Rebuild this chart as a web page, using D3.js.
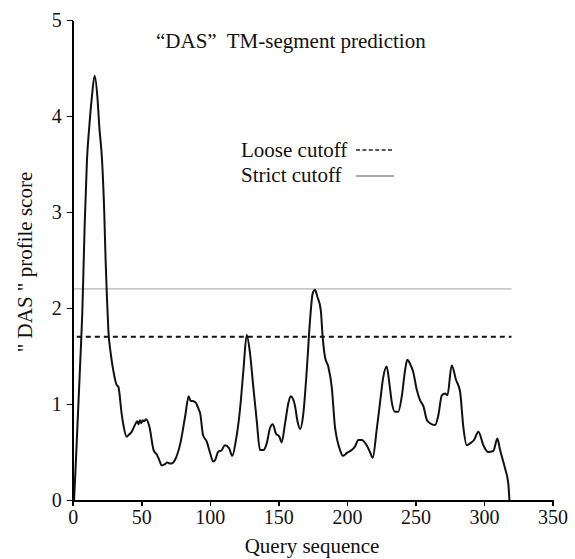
<html>
<head>
<meta charset="utf-8">
<title>DAS TM-segment prediction</title>
<style>
  body { margin: 0; background-color: white; }
  svg { background-color: white; font-family: "Liberation Serif", "Times New Roman", serif; }
  .axis path, .axis line { fill: none; stroke: black; shape-rendering: crispEdges; }
  .axis text { font-size: 20px; fill: #111; }
</style>
</head>
<body>
<div id="chart"></div>
<script src="https://cdnjs.cloudflare.com/ajax/libs/d3/7.8.5/d3.min.js"></script>
<script>
// 数据: 序列位置 与 DAS 分数
var seqPos = [1, 2, 4, 6, 7, 8.7, 10.4, 12.1, 14, 16, 18, 19.4, 21.4, 23, 24, 25, 26, 27.7, 29.6, 32, 33.3, 35.7, 37, 39.3,
  41, 43, 46, 47, 48, 49, 50, 51, 52, 53.5, 56, 59, 61.5, 63, 65, 67, 69, 71, 72, 75, 78.5, 82, 84.6, 86, 87, 89.4,
  92, 93, 95, 97.7, 100, 102.6, 104, 106, 108.7, 111, 114, 116.4, 118.9, 122, 124.5, 126.9, 129.3, 131.7, 134.2, 136.6,
  139, 141.5, 143.9, 145.9, 148.3, 150.7, 152.4, 154.9, 157.3, 159, 162, 163.8, 165.8, 168.2, 170.7, 173.1, 175, 176.7,
  178.4, 180.9, 182.3, 184, 186.4, 188.9, 191.3, 193, 195, 197, 200, 203.5, 206, 208.3, 210.8, 214.4, 216.8, 218.8,
  221.7, 224.1, 226.5, 229, 230.9, 232.7, 235, 237.5, 240, 242.4, 244, 246, 248.4, 250.9, 253.3, 255.7, 258.4, 260.6,
  264.3, 266.7, 269.2, 271.6, 273.3, 276.4, 279.6, 282.5, 284.9, 287.4, 289.8, 292.7, 295.9, 299.5, 303, 306.8, 309.7,
  311.7, 315.3, 317.7, 318.5];
var dasScore = [0, 0.3, 0.95, 1.6, 1.95, 2.85, 3.54, 3.89, 4.2, 4.42, 4.2, 3.89, 3.54, 3.0, 2.5, 2.1, 1.77, 1.53, 1.35, 1.2, 1.18, 0.9, 0.78, 0.66,
  0.68, 0.71, 0.8, 0.82, 0.79, 0.83, 0.8, 0.83, 0.82, 0.84, 0.76, 0.52, 0.47, 0.42, 0.36, 0.37, 0.39, 0.38, 0.38, 0.43, 0.59, 0.87, 1.08, 1.03, 1.03, 1.02,
  0.94, 0.9, 0.68, 0.61, 0.5, 0.4, 0.42, 0.5, 0.52, 0.57, 0.54, 0.46, 0.61, 0.94, 1.35, 1.72, 1.53, 1.18, 0.83, 0.52,
  0.52, 0.59, 0.75, 0.79, 0.69, 0.66, 0.6, 0.8, 1.01, 1.08, 0.99, 0.83, 0.74, 0.9, 1.35, 1.875, 2.15, 2.19,
  2.12, 1.98, 1.7, 1.49, 1.39, 1.18, 0.76, 0.62, 0.52, 0.46, 0.49, 0.52, 0.56, 0.625, 0.625, 0.57, 0.5, 0.44,
  0.73, 1.01, 1.28, 1.39, 1.22, 1.02, 0.92, 0.92, 1.08, 1.35, 1.46, 1.42, 1.33, 1.15, 1.04, 0.98, 0.83, 0.8,
  0.78, 0.885, 1.09, 1.11, 1.09, 1.4, 1.25, 1.13, 0.76, 0.57, 0.59, 0.625, 0.71, 0.57, 0.5, 0.51, 0.64,
  0.52, 0.33, 0.17, 0];
var looseCutoff = 1.7;
var strictCutoff = 2.2;
var seqLength = 320;
var xTicks = [0, 50, 100, 150, 200, 250, 300, 350];
var yTicks = [0, 1, 2, 3, 4, 5];

var fullWidth = 575, fullHeight = 559;
var margin = {top: 20, right: 22.4, bottom: 59, left: 72.7};
var serif = "Liberation Serif, Times New Roman, serif";

var svg = d3.select("#chart").append("svg")
  .attr("width", fullWidth)
  .attr("height", fullHeight);

var xScale = d3.scaleLinear().domain([0, 350]).range([margin.left, fullWidth - margin.right]);
var yScale = d3.scaleLinear().domain([0, 5]).range([fullHeight - margin.bottom, margin.top]);

var xAxis = d3.axisBottom(xScale).tickValues(xTicks).tickFormat(d3.format("d"))
  .tickSize(6).tickSizeOuter(0).tickPadding(4);
var yAxis = d3.axisLeft(yScale).tickValues(yTicks).tickFormat(d3.format("d"))
  .tickSize(6).tickSizeOuter(0).tickPadding(5);

// cutoff lines
svg.append("line")
  .attr("x1", xScale(0)).attr("x2", xScale(seqLength))
  .attr("y1", yScale(strictCutoff)).attr("y2", yScale(strictCutoff))
  .attr("stroke", "#b4b4b4").attr("stroke-width", 1.2);

svg.append("line")
  .attr("x1", xScale(3)).attr("x2", xScale(seqLength))
  .attr("y1", yScale(looseCutoff)).attr("y2", yScale(looseCutoff))
  .attr("stroke", "#111").attr("stroke-width", 2)
  .attr("stroke-dasharray", "5,4");

// 曲线
var line = d3.line()
  .x(function(d) { return xScale(d[0]); })
  .y(function(d) { return yScale(d[1]); })
  .curve(d3.curveMonotoneX);

svg.append("path")
  .datum(d3.zip(seqPos, dasScore))
  .attr("d", line)
  .attr("fill", "none")
  .attr("stroke", "#111")
  .attr("stroke-width", 2);

// axes
var gx = svg.append("g")
  .attr("class", "x axis")
  .attr("transform", "translate(0," + yScale(0) + ")")
  .call(xAxis)
  .attr("font-family", serif);
gx.select(".domain").attr("stroke-width", 2);
gx.selectAll(".tick line").attr("stroke-width", 1.5);

var gy = svg.append("g")
  .attr("class", "y axis")
  .attr("transform", "translate(" + xScale(0) + ",0)")
  .call(yAxis)
  .attr("font-family", serif);
gy.select(".domain").attr("stroke-width", 2);
gy.selectAll(".tick line").attr("stroke-width", 1.5);

// title
svg.append("text")
  .attr("x", 156).attr("y", 48)
  .attr("font-size", "21px").attr("fill", "#111")
  .style("white-space", "pre")
  .text("\u201cDAS\u201d  TM-segment prediction");

// legend
svg.append("text").attr("x", 241).attr("y", 157)
  .attr("font-size", "21px").attr("fill", "#111").text("Loose cutoff");
svg.append("line").attr("x1", 356).attr("x2", 394).attr("y1", 150).attr("y2", 150)
  .attr("stroke", "#222").attr("stroke-width", 1.5).attr("stroke-dasharray", "4,2.4");
svg.append("text").attr("x", 241).attr("y", 182)
  .attr("font-size", "21px").attr("fill", "#111").text("Strict cutoff");
svg.append("line").attr("x1", 356).attr("x2", 394).attr("y1", 176).attr("y2", 176)
  .attr("stroke", "#555").attr("stroke-width", 1.2);

// axis labels
svg.append("text")
  .attr("transform", "translate(32,262) rotate(-90)")
  .attr("text-anchor", "middle")
  .attr("font-family", serif)
  .attr("font-size", "21px").attr("fill", "#111")
  .style("white-space", "pre")
  .text("\" DAS \" profile score");

svg.append("text")
  .attr("x", 312).attr("y", 553)
  .attr("text-anchor", "middle")
  .attr("font-size", "21px").attr("fill", "#111")
  .text("Query sequence");
</script>
</body>
</html>
